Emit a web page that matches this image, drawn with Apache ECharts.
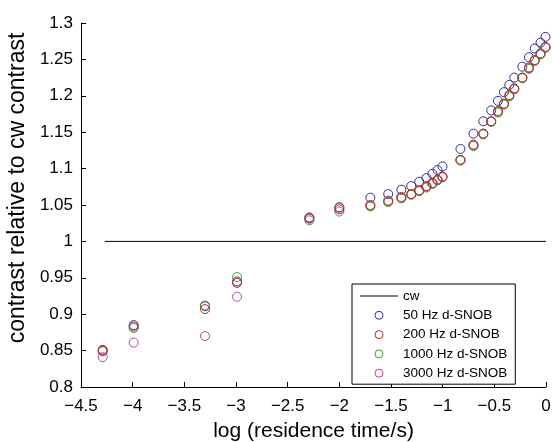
<!DOCTYPE html>
<html>
<head>
<meta charset="utf-8">
<script src="https://cdn.jsdelivr.net/npm/echarts@6/dist/echarts.min.js"></script>
<style>html,body{margin:0;padding:0;background:#fff;}#c{width:552px;height:442px;}</style>
</head>
<body>
<div id="c"></div>
<script>
var logTime = [-4.29, -3.99, -3.30, -2.99, -2.29, -2.00, -1.70, -1.527, -1.40, -1.304, -1.227, -1.157, -1.099, -1.05, -1.002, -0.828, -0.702, -0.607, -0.53, -0.465, -0.407, -0.355, -0.307, -0.229, -0.165, -0.109, -0.053, -0.005];
var hz50 = [0.851, 0.885, 0.911, 0.945, 1.032, 1.047, 1.060, 1.065, 1.071, 1.076, 1.082, 1.087, 1.093, 1.098, 1.103, 1.127, 1.148, 1.165, 1.180, 1.193, 1.205, 1.215, 1.225, 1.240, 1.253, 1.265, 1.273, 1.281];
var hz200 = [0.850, 0.883, 0.907, 0.943, 1.033, 1.044, 1.050, 1.056, 1.061, 1.065, 1.070, 1.076, 1.080, 1.085, 1.089, 1.112, 1.133, 1.148, 1.165, 1.179, 1.189, 1.201, 1.210, 1.225, 1.239, 1.249, 1.258, 1.267];
var hz1000 = [0.849, 0.881, 0.912, 0.951, 1.029, 1.041, 1.048, 1.054, 1.059, 1.064, 1.069, 1.074, 1.079, 1.084, 1.088, 1.111, 1.131, 1.147, 1.164, 1.177, 1.188, 1.199, 1.209, 1.224, 1.237, 1.248, 1.257, 1.266];
var hz3000 = [0.841, 0.861, 0.870, 0.924, 1.031, 1.046, 1.049, 1.055, 1.060, 1.065, 1.070, 1.075, 1.080, 1.084, 1.089, 1.112, 1.132, 1.148, 1.165, 1.178, 1.189, 1.200, 1.210, 1.225, 1.238, 1.249, 1.258, 1.267];
var cwX = [-4.27, 0];
var cwY = [1, 1];
var seriesNames = ['cw', '50 Hz d-SNOB', '200 Hz d-SNOB', '1000 Hz d-SNOB', '3000 Hz d-SNOB'];
var xTitle = 'log (residence time/s)';
var yTitle = 'contrast relative to cw contrast';

function pairs(xs, ys) { return xs.map(function (x, i) { return [x, ys[i]]; }); }
var FONT = 'Liberation Sans, Arial, sans-serif';
function scatter(name, ys, color, z) {
  return {
    name: name, type: 'scatter', data: pairs(logTime, ys), z: z,
    symbol: 'circle', symbolSize: 9,
    itemStyle: { color: 'rgba(255,255,255,0)', borderColor: color, borderWidth: 1, opacity: 1 },
    emphasis: { disabled: true }
  };
}
var chart = echarts.init(document.getElementById('c'), null, { renderer: 'canvas' });
chart.setOption({
  animation: false,
  backgroundColor: '#fff',
  grid: { left: 81, right: 6, top: 23, bottom: 55, containLabel: false, outerBoundsMode: 'none' },
  xAxis: {
    type: 'value', min: -4.5, max: 0, interval: 0.5,
    name: xTitle, nameLocation: 'middle', nameGap: 34,
    nameTextStyle: { fontFamily: FONT, fontSize: 21, color: '#000' },
    axisLine: { show: true, onZero: false, lineStyle: { color: '#000', width: 1 } },
    axisTick: { show: true, inside: true, length: 5, lineStyle: { color: '#000' } },
    axisLabel: { fontFamily: FONT, fontSize: 17, color: '#000', margin: 11,
      formatter: function (v) { return String(v).replace('-', '\u2212'); } },
    splitLine: { show: false }
  },
  yAxis: {
    type: 'value', min: 0.8, max: 1.3, interval: 0.05,
    name: yTitle, nameLocation: 'middle', nameGap: 47,
    nameTextStyle: { fontFamily: FONT, fontSize: 23, color: '#000', padding: [0, 0, 0, 34] },
    axisLine: { show: true, onZero: false, lineStyle: { color: '#000', width: 1 } },
    axisTick: { show: true, inside: true, length: 5, lineStyle: { color: '#000' } },
    axisLabel: { fontFamily: FONT, fontSize: 17, color: '#000', margin: 8,
      formatter: function (v) { return String(Math.round(v * 100) / 100); } },
    splitLine: { show: false }
  },
  legend: {
    orient: 'vertical', left: 352, top: 284,
    data: [{ name: seriesNames[0], icon: 'path://M0 0H38V1H0Z' }, seriesNames[1], seriesNames[2], seriesNames[3], seriesNames[4]],
    backgroundColor: '#fff', borderColor: '#000', borderWidth: 1,
    padding: [5, 8, 4, 8],
    itemWidth: 38, itemHeight: 8, itemGap: 5.3,
    itemStyle: { borderWidth: 1 },
    textStyle: { fontFamily: FONT, fontSize: 13.5, color: '#000' }
  },
  series: [
    { name: seriesNames[0], type: 'line', data: pairs(cwX, cwY), symbol: 'none', showSymbol: false,
      lineStyle: { color: '#000', width: 1 }, itemStyle: { color: '#000' }, z: 1 },
    scatter(seriesNames[1], hz50, '#2e2e9e', 2),
    scatter(seriesNames[2], hz200, '#c0242e', 5),
    scatter(seriesNames[3], hz1000, '#3ea02e', 4),
    scatter(seriesNames[4], hz3000, '#bb44a2', 3)
  ]
});
</script>
</body>
</html>
